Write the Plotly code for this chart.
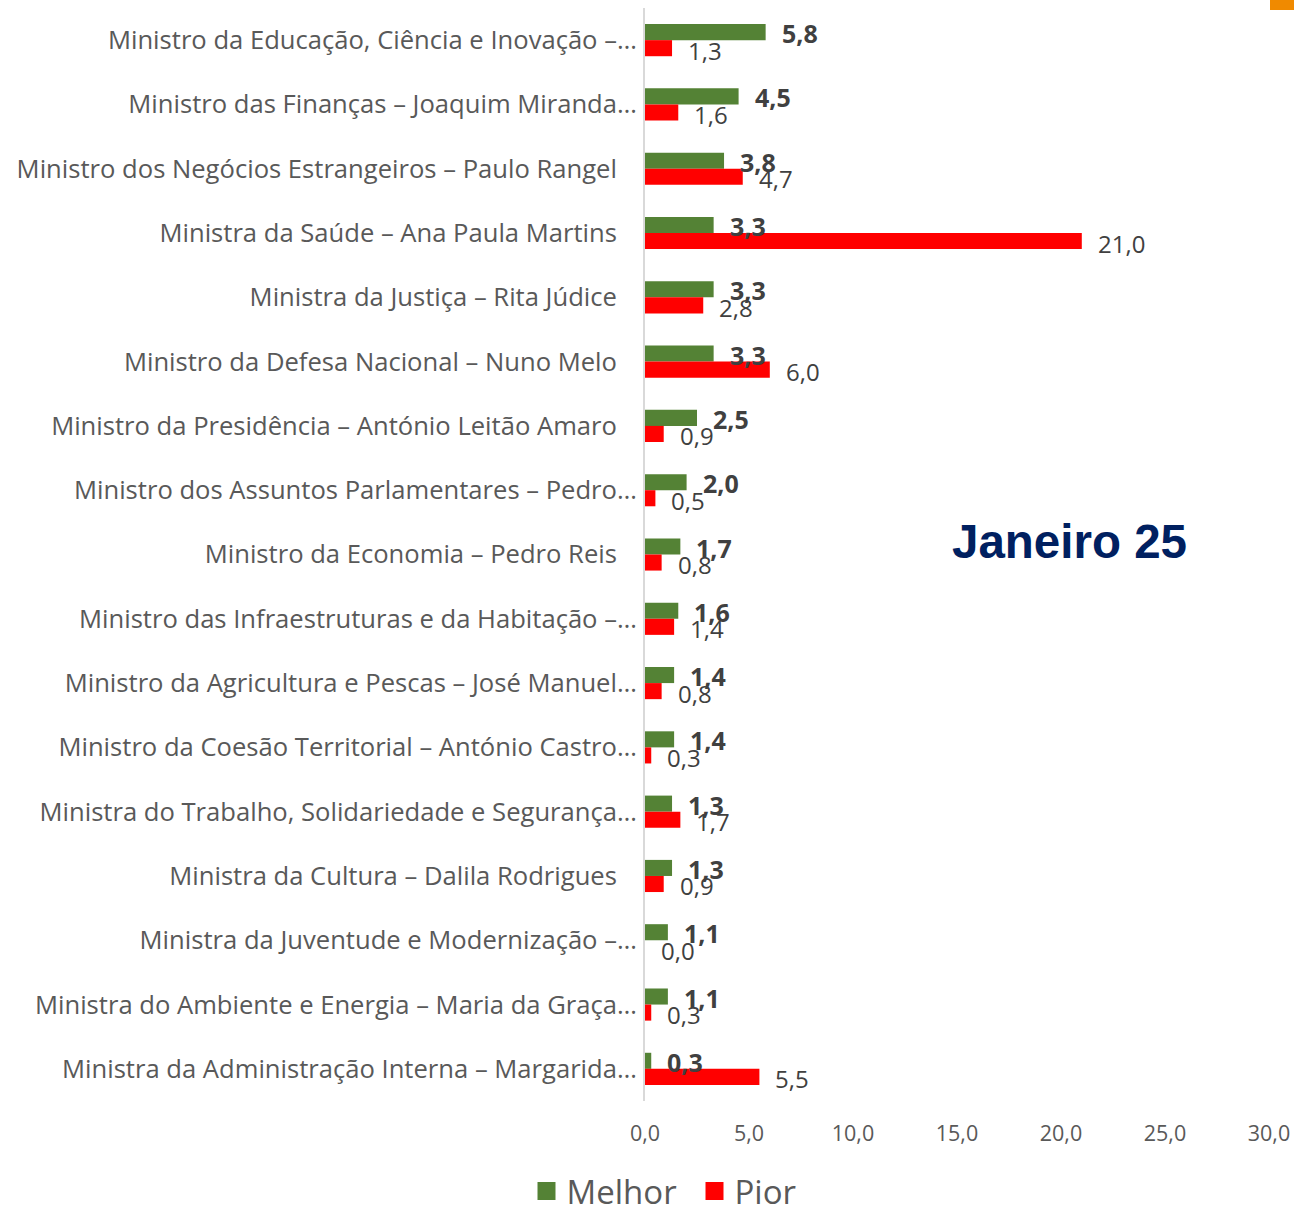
import plotly.graph_objects as go

categories = [
    "Ministro da Educação, Ciência e Inovação –…",
    "Ministro das Finanças – Joaquim Miranda…",
    "Ministro dos Negócios Estrangeiros – Paulo Rangel",
    "Ministra da Saúde – Ana Paula Martins",
    "Ministra da Justiça – Rita Júdice",
    "Ministro da Defesa Nacional – Nuno Melo",
    "Ministro da Presidência – António Leitão Amaro",
    "Ministro dos Assuntos Parlamentares – Pedro…",
    "Ministro da Economia – Pedro Reis",
    "Ministro das Infraestruturas e da Habitação –…",
    "Ministro da Agricultura e Pescas – José Manuel…",
    "Ministro da Coesão Territorial – António Castro…",
    "Ministra do Trabalho, Solidariedade e Segurança…",
    "Ministra da Cultura – Dalila Rodrigues",
    "Ministra da Juventude e Modernização –…",
    "Ministra do Ambiente e Energia – Maria da Graça…",
    "Ministra da Administração Interna – Margarida…",
]
melhor = [5.8, 4.5, 3.8, 3.3, 3.3, 3.3, 2.5, 2.0, 1.7, 1.6, 1.4, 1.4, 1.3, 1.3, 1.1, 1.1, 0.3]
pior = [1.3, 1.6, 4.7, 21.0, 2.8, 6.0, 0.9, 0.5, 0.8, 1.4, 0.8, 0.3, 1.7, 0.9, 0.0, 0.3, 5.5]
x_ticks = [0, 5, 10, 15, 20, 25, 30]
title_text = "Janeiro 25"

GREEN = "#548235"
RED = "#FF0000"
LABEL = "#404040"
GREY = "#595959"
FONT = "Open Sans"

# page geometry (body margin removed via post_script)
FIG_W, FIG_H = 1294, 1210
PX0, PX1 = 645, 1269          # plot area left/right in page px
PY0, PY1 = 8, 1101            # plot area top/bottom in page px
PW = PX1 - PX0
PH = PY1 - PY0


def px_to_paper_x(px):
    return (px - PX0) / PW


def px_to_paper_y(py):
    return (PY1 - py) / PH


def fmt(v):
    return f"{v:.1f}".replace(".", ",")


# pad labels that are not truncated so they end where Excel placed them
tick_text = [c if c.endswith("…") else c + "\u00a0\u00a0\u00a0" for c in categories]

fig = go.Figure()
fig.add_trace(go.Bar(y=categories, x=melhor, orientation="h", name="Melhor",
                     marker=dict(color=GREEN, line=dict(width=0)), showlegend=False))
fig.add_trace(go.Bar(y=categories, x=pior, orientation="h", name="Pior",
                     marker=dict(color=RED, line=dict(width=0)), showlegend=False))

# legend proxies (larger squares)
fig.add_trace(go.Scatter(x=[None], y=[None], mode="markers", name="Melhor",
                         marker=dict(symbol="square", size=17, color=GREEN,
                                     line=dict(width=2, color=GREEN))))
fig.add_trace(go.Scatter(x=[None], y=[None], mode="markers", name="Pior",
                         marker=dict(symbol="square", size=17, color=RED,
                                     line=dict(width=2, color=RED))))

annotations = []
for c, m, p in zip(categories, melhor, pior):
    annotations.append(dict(x=m, y=c, xref="x", yref="y", text=fmt(m), showarrow=False,
                            xanchor="left", yanchor="middle", xshift=14, yshift=7,
                            font=dict(family=FONT, size=25, color=LABEL, weight="bold")))
    annotations.append(dict(x=p, y=c, xref="x", yref="y", text=fmt(p), showarrow=False,
                            xanchor="left", yanchor="middle", xshift=14, yshift=-10,
                            font=dict(family=FONT, size=24, color=LABEL)))

annotations.append(dict(x=px_to_paper_x(1069.5), y=px_to_paper_y(541), xref="paper",
                        yref="paper", text=title_text, showarrow=False,
                        xanchor="center", yanchor="middle",
                        font=dict(family="Liberation Sans, Arial", size=47.5,
                                  color="#002060", weight="bold")))

fig.update_layout(
    width=FIG_W, height=FIG_H,
    margin=dict(l=PX0, r=FIG_W - PX1, t=PY0, b=FIG_H - PY1, autoexpand=False),
    plot_bgcolor="white", paper_bgcolor="white",
    barmode="group", bargap=0.5, bargroupgap=0,
    separators=",.",
    font=dict(family=FONT, color=GREY),
    legend=dict(orientation="h", x=px_to_paper_x(526.5), xanchor="left",
                y=px_to_paper_y(1191), yanchor="middle",
                font=dict(family=FONT, size=33, color=GREY), itemsizing="trace",
                itemwidth=30, entrywidth=123, entrywidthmode="pixels",
                bgcolor="rgba(0,0,0,0)"),
    annotations=annotations,
)

fig.add_shape(type="rect", xref="paper", yref="paper",
              x0=px_to_paper_x(1270), x1=px_to_paper_x(1294),
              y0=px_to_paper_y(10), y1=px_to_paper_y(0),
              fillcolor="#F08A00", line=dict(width=0), layer="above")

fig.update_xaxes(range=[0, 30], tickvals=x_ticks, tickformat=".1f", showgrid=False,
                 zeroline=False, showline=False, ticks="", ticklabelstandoff=17,
                 tickfont=dict(family=FONT, size=21.5, color=GREY), automargin=False)
fig.update_yaxes(autorange="reversed", tickvals=categories, ticktext=tick_text,
                 showgrid=False, zeroline=False, showline=True, linecolor="#D9D9D9",
                 linewidth=2, ticks="", ticklabelstandoff=1, automargin=False,
                 tickfont=dict(family=FONT, size=25.6, color=GREY))

fig.write_html("out.html", config={"displayModeBar": False},
               post_script="document.body.style.margin='0';"
                           "document.body.style.overflow='hidden';")
